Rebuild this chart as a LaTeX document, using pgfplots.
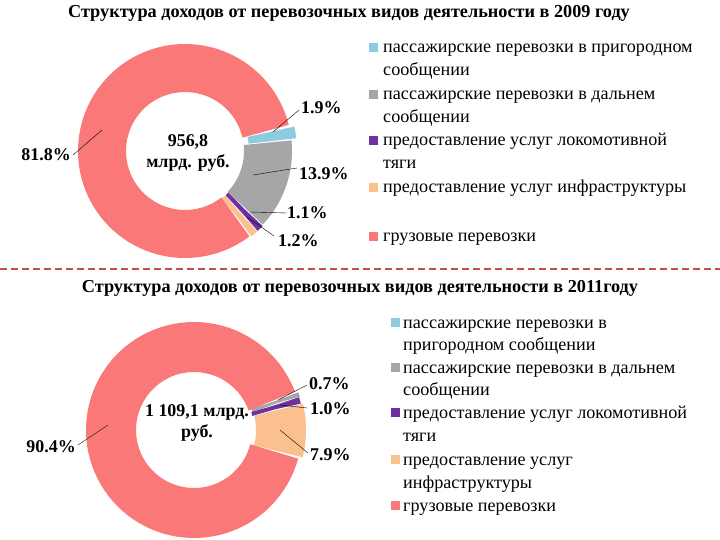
\documentclass[border=0pt]{standalone}
\usepackage{fontspec}
\setmainfont{Liberation Serif}
\usepackage{pgfplots}
\usepackage{pgfplotstable}
\pgfplotsset{compat=1.18}
\usepgfplotslibrary{polar}

\definecolor{cBlue}{RGB}{141,204,222}
\definecolor{cGrey}{RGB}{166,166,166}
\definecolor{cPurple}{RGB}{112,48,160}
\definecolor{cPeach}{RGB}{250,192,144}
\definecolor{cRed}{RGB}{250,120,120}
\definecolor{cDash}{RGB}{192,80,77}

% shares in percent, slice colour, radius of the ring middle (bigger = pulled out)
\pgfplotstableread{
share col rad
1.9 cBlue 88
13.9 cGrey 83
1.1 cPurple 84
1.2 cPeach 84
81.8 cRed 83
}\tabA

\pgfplotstableread{
share col rad
0.7 cGrey 86
1.0 cPurple 85
7.9 cPeach 87
90.4 cRed 83
}\tabB

% #1 table, #2 start angle, #3 last row, #4 ring width; slices go clockwise
\newcommand{\donut}[4]{%
  \xdef\angCur{#2}%
  \pgfplotsinvokeforeach{0,...,#3}{%
    \pgfplotstablegetelem{##1}{share}\of#1\let\sh\pgfplotsretval
    \pgfplotstablegetelem{##1}{col}\of#1\let\cl\pgfplotsretval
    \pgfplotstablegetelem{##1}{rad}\of#1\let\rd\pgfplotsretval
    \pgfmathsetmacro{\angNext}{\angCur-3.6*\sh}%
    \pgfmathsetmacro{\dA}{\angNext+0.4}%
    \pgfmathsetmacro{\dB}{\angCur-0.4}%
    \edef\doslice{\noexpand\addplot[draw=\cl, line width=#4, domain=\dA:\dB, samples=90, no markers] {\rd};}%
    \doslice
    \xdef\angCur{\angNext}%
  }%
}

\newcommand{\lf}{\fontsize{18.2}{21}\selectfont}
\newcommand{\bfn}{\bfseries\fontsize{18}{21}\selectfont}
\newcommand{\tf}{\bfseries\fontsize{18.3}{21}\selectfont}
\newcommand{\ltext}[3]{\node[anchor=base west, inner sep=0pt, font=\lf] at (#1,-#2) {#3};}

\begin{document}
\begin{tikzpicture}[x=1bp,y=1bp]
\path[use as bounding box, fill=white] (0,0) rectangle (720,-540);

% ---- 2009 ----
\node[font=\tf] at (349,-13) {Структура доходов от перевозочных видов деятельности в 2009 году};
\begin{polaraxis}[at={(185,-151)}, anchor=center, hide axis, scale only axis,
  width=214bp, height=214bp, xmin=0, xmax=360, ymin=0, ymax=107, clip=false]
\donut{\tabA}{13}{4}{48bp}
\end{polaraxis}
\node[font=\bfn, align=center] at (188,-153) {956,8\\млрд. руб.};

\draw[thin] (273,-132) -- (299,-110);
\draw[thin] (253,-175) -- (297,-168);
\draw[thin] (250,-212) -- (287,-213);
\draw[thin] (247,-217) -- (274,-236);
\draw[thin] (102,-130) -- (73,-155);
\node[font=\bfn, anchor=west, inner sep=1pt] at (300,-108) {1.9\%};
\node[font=\bfn, anchor=west, inner sep=1pt] at (298,-174) {13.9\%};
\node[font=\bfn, anchor=west, inner sep=1pt] at (286,-213) {1.1\%};
\node[font=\bfn, anchor=west, inner sep=1pt] at (277,-241) {1.2\%};
\node[font=\bfn, anchor=east, inner sep=1pt] at (72,-155) {81.8\%};

\fill[cBlue] (369,-43) rectangle (378,-52);
\fill[cGrey] (369,-90) rectangle (378,-99);
\fill[cPurple] (369,-136) rectangle (378,-145);
\fill[cPeach] (369,-183) rectangle (378,-192);
\fill[cRed] (369,-232) rectangle (378,-241);
\ltext{383}{53}{пассажирские перевозки в пригородном}
\ltext{383}{76}{сообщении}
\ltext{383}{100}{пассажирские перевозки в дальнем}
\ltext{383}{123}{сообщении}
\ltext{383}{146}{предоставление услуг локомотивной}
\ltext{383}{169}{тяги}
\ltext{383}{193}{предоставление услуг инфраструктуры}
\ltext{383}{242}{грузовые перевозки}

\draw[cDash, line width=1.5bp, dash pattern=on 7bp off 4bp] (0,-269) -- (720,-269);

% ---- 2011 ----
\node[font=\tf] at (360,-288) {Структура доходов от перевозочных видов деятельности в 2011году};
\begin{polaraxis}[at={(194,-430)}, anchor=center, hide axis, scale only axis,
  width=216bp, height=216bp, xmin=0, xmax=360, ymin=0, ymax=108, clip=false]
\donut{\tabB}{20}{3}{50bp}
\end{polaraxis}
\node[font=\bfn, align=center] at (197,-423) {1 109,1 млрд.\\руб.};

\draw[thin] (278,-400) -- (307,-385);
\draw[thin] (280,-405) -- (307,-408);
\draw[thin] (280,-430) -- (308,-453);
\draw[thin] (108,-425) -- (78,-445);
\node[font=\bfn, anchor=west, inner sep=1pt] at (308,-384) {0.7\%};
\node[font=\bfn, anchor=west, inner sep=1pt] at (309,-409) {1.0\%};
\node[font=\bfn, anchor=west, inner sep=1pt] at (309,-455) {7.9\%};
\node[font=\bfn, anchor=east, inner sep=1pt] at (77,-447) {90.4\%};

\fill[cBlue] (391,-318) rectangle (400,-327);
\fill[cGrey] (391,-363) rectangle (400,-372);
\fill[cPurple] (391,-408) rectangle (400,-417);
\fill[cPeach] (391,-455) rectangle (400,-464);
\fill[cRed] (391,-501) rectangle (400,-510);
\ltext{403}{328}{пассажирские перевозки в}
\ltext{403}{350}{пригородном сообщении}
\ltext{403}{373}{пассажирские перевозки в дальнем}
\ltext{403}{395}{сообщении}
\ltext{403}{418}{предоставление услуг локомотивной}
\ltext{403}{441}{тяги}
\ltext{403}{465}{предоставление услуг}
\ltext{403}{488}{инфраструктуры}
\ltext{403}{511}{грузовые перевозки}
\end{tikzpicture}
\end{document}
